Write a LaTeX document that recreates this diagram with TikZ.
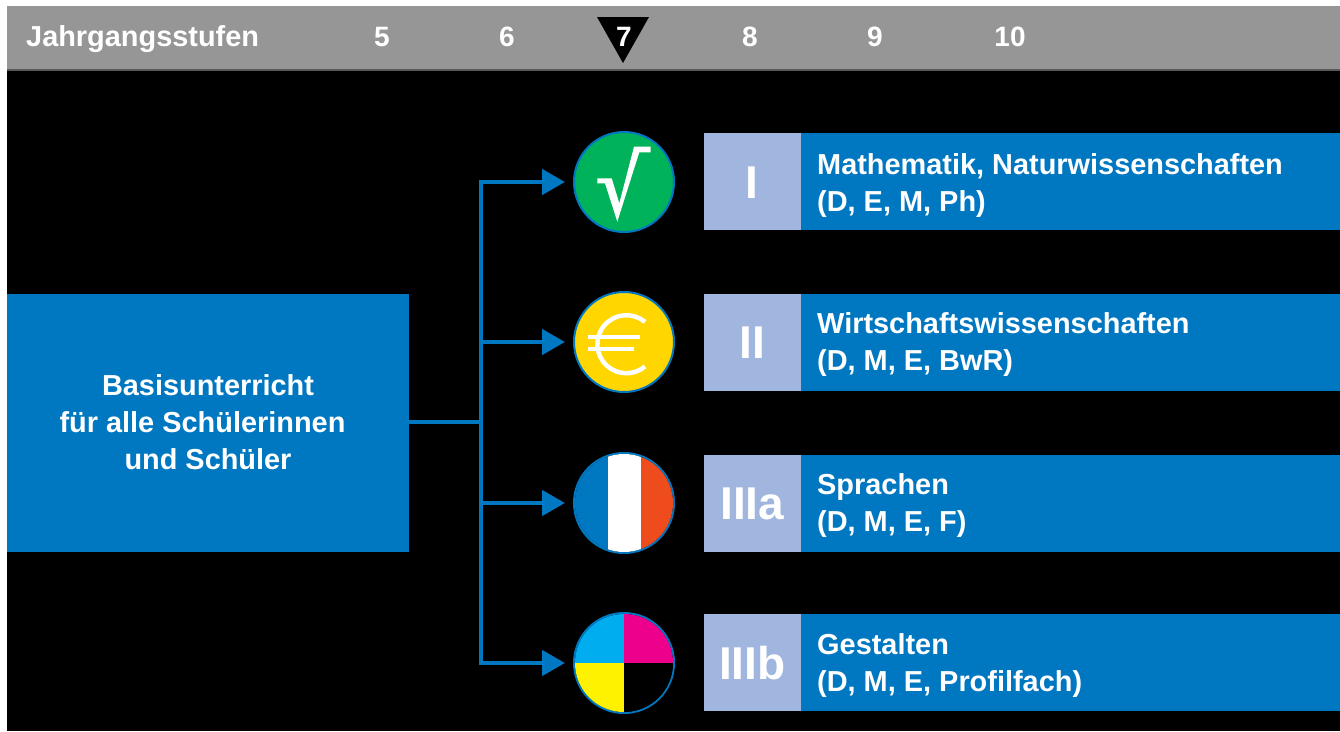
\documentclass[tikz,border=0pt]{standalone}
\usepackage{fontspec}
\setmainfont{Liberation Sans}
\usetikzlibrary{
    arrows.meta,
    calc,
    positioning
}
\definecolor{barblue}{HTML}{0077C1}
\definecolor{paleblue}{HTML}{A0B6DF}
\definecolor{bargrey}{HTML}{969696}
\definecolor{rootgreen}{HTML}{00B259}
\definecolor{eurogold}{HTML}{FFD600}
\definecolor{flagred}{HTML}{EF4C1E}
\definecolor{printcyan}{HTML}{00AEEF}
\definecolor{printmagenta}{HTML}{EC008C}
\definecolor{printyellow}{HTML}{FFF200}

\tikzset{
    yearlabel/.style={text=white, font=\fontsize{28}{30}\selectfont\bfseries, inner sep=0pt},
    blockbar/.style={fill=barblue, draw=none, minimum width=539pt, minimum height=97pt, inner sep=0pt, anchor=west},
    romanbox/.style={fill=paleblue, draw=none, minimum width=97pt, minimum height=97pt, inner sep=0pt, text=white, text height=33pt, text depth=0pt, font=\fontsize{46}{50}\selectfont\bfseries},
    bartext/.style={text=white, font=\fontsize{28.9}{37}\selectfont\bfseries, align=left, inner sep=0pt, anchor=west},
    badge/.style={circle, minimum size=100pt, inner sep=0pt, draw=barblue, line width=2pt},
    link/.style={draw=barblue, line width=4.5pt},
    linkarrow/.style={link, -{Triangle[length=23pt,width=25pt]}, shorten >=8pt}
}

\begin{document}
\begin{tikzpicture}[x=1pt, y=-1pt]
    \useasboundingbox (0, 0) rectangle (1340, 731);
    \fill [white] (0, 0) rectangle (1340, 731);
    \fill [black] (7, 6) rectangle (1340, 731);
    \fill [bargrey] (7, 6) rectangle (1340, 70);
    \fill [black!65] (7, 69) rectangle (1340, 71);

    \node [yearlabel, anchor=base west, font=\fontsize{28.9}{30}\selectfont\bfseries] (years) at (26, 46) {Jahrgangsstufen};
    \node [yearlabel] (five) at (382, 37) {5};
    \node [yearlabel] (six) at (507, 37) {6};
    \fill [black] (597, 17) -- (649, 17) -- (623, 63) -- cycle;
    \node [yearlabel] (seven) at (624, 37) {7};
    \node [yearlabel] (eight) at (750, 37) {8};
    \node [yearlabel] (nine) at (875, 37) {9};
    \node [yearlabel] (ten) at (1010, 37) {10};

    % left block
    \node [fill=barblue, minimum width=402pt, minimum height=258pt, inner sep=0pt, text=white,
        align=center, font=\fontsize{28.9}{37}\selectfont\bfseries] (basis) at (208, 422.5)
        {Basisunterricht\\für alle Schülerinnen\kern11pt\\und Schüler};

    % circles
    \node [badge, fill=rootgreen] (math) at (624, 182) {};
    \node [badge, fill=eurogold] (euro) at (624, 342) {};
    \node [badge] (lang) at (624, 503) {};
    \node [badge] (art) at (624, 663) {};

    \fill [white] (597.3, 178.3) -- (611.7, 178.3) -- (619.3, 203.3) -- (634, 146.7) -- (650.7, 146.7)
        -- (650.7, 152.3) -- (639.3, 152.3) -- (617.3, 221.7) -- (605, 183.3) -- (597.3, 183.3) -- cycle;

    \draw [white, line width=4.5pt] (645, 322) arc (-50:-310:29);
    \draw [white, line width=4.5pt] (588, 337) -- (640, 337) (588, 349) -- (634, 349);

    \begin{scope}
        \clip (lang) circle (49);
        \fill [barblue] (570, 450) rectangle (608, 556);
        \fill [white] (608, 450) rectangle (641, 556);
        \fill [flagred] (641, 450) rectangle (680, 556);
    \end{scope}

    \begin{scope}
        \clip (art) circle (49);
        \fill [printcyan] (570, 610) rectangle (624, 663);
        \fill [printmagenta] (624, 610) rectangle (680, 663);
        \fill [printyellow] (570, 663) rectangle (624, 716);
        \fill [black] (624, 663) rectangle (680, 716);
    \end{scope}

    % bars on the right
    \node [blockbar] (barone) at (801, 181.5) {};
    \node [blockbar] (bartwo) at (801, 342) {};
    \node [blockbar] (barthree) at (801, 503) {};
    \node [blockbar] (barfour) at (801, 662.5) {};
    \node [romanbox, left=0pt of barone] (one) {I};
    \node [romanbox, left=0pt of bartwo] (two) {II};
    \node [romanbox, left=0pt of barthree] (three) {IIIa};
    \node [romanbox, left=0pt of barfour] (four) {IIIb};
    \node [bartext] (textone) at (817, 185.5) {Mathematik, Naturwissenschaften\\(D, E, M, Ph)};
    \node [bartext] (texttwo) at (817, 344.5) {Wirtschaftswissenschaften\\(D, M, E, BwR)};
    \node [bartext] (textthree) at (817, 506) {Sprachen\\(D, M, E, F)};
    \node [bartext] (textfour) at (817, 666) {Gestalten\\(D, M, E, Profilfach)};

    % connectors
    \coordinate (hub) at (481, 422);
    \draw [link] (basis.east |- hub) -- (hub);
    \draw [linkarrow] (hub) |- (math.west);
    \draw [linkarrow] (hub) |- (euro.west);
    \draw [linkarrow] (hub) |- (lang.west);
    \draw [linkarrow] (hub) |- (art.west);
\end{tikzpicture}
\end{document}
